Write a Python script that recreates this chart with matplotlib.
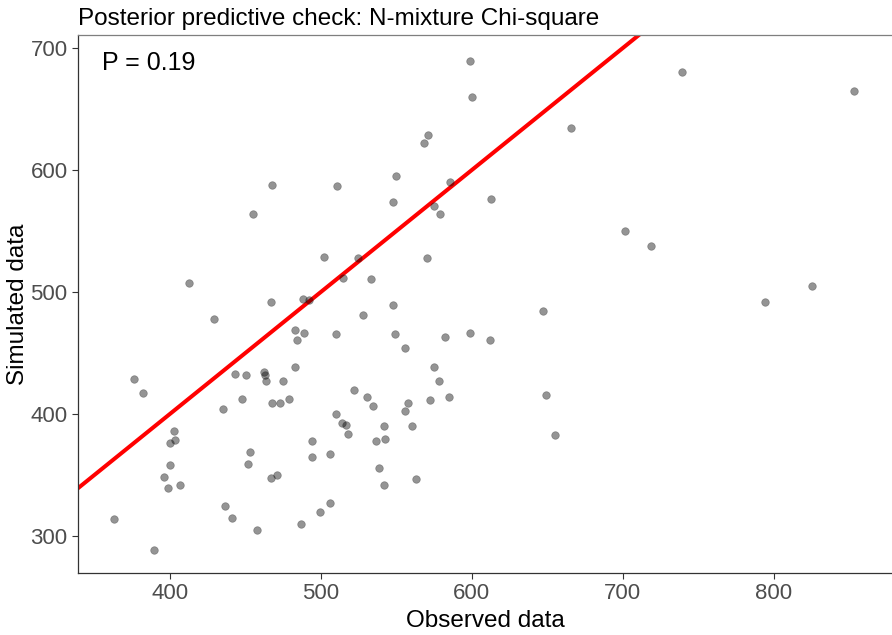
import matplotlib
matplotlib.use("Agg")
import matplotlib.pyplot as plt
import numpy as np

# Observed vs simulated discrepancy values
observed = [
    467.7, 511.0, 455.1, 502.0, 524.4, 514.6, 412.8, 467.0, 487.9, 492.5,
    429.3, 510.4, 482.9, 488.6, 484.4, 376.3, 382.5, 443.4, 450.5, 462.6,
    462.8, 463.7, 475.1, 482.9, 447.7, 467.9, 473.3, 479.1, 435.1, 522.3,
    402.6, 403.2, 399.9, 400.4, 396.4, 399.1, 406.5, 453.1, 452.0, 467.0,
    470.7, 494.4, 494.4, 506.0, 510.4, 513.8, 516.7, 518.1, 436.8, 441.1,
    457.9, 487.2, 499.4, 506.4, 362.8, 389.7, 599.0, 599.9, 570.8, 568.6,
    665.6, 549.9, 547.9, 585.6, 612.9, 574.8, 579.2, 701.3, 570.4, 533.1,
    547.6, 528.2, 647.3, 549.0, 556.0, 582.5, 598.6, 612.0, 575.2, 578.5,
    530.5, 534.5, 557.8, 555.6, 572.6, 584.7, 649.1, 542.1, 542.8, 536.8,
    560.4, 655.2, 538.6, 542.1, 563.3, 739.5, 853.0, 718.7, 793.9, 825.2,
]
simulated = [
    588.1, 587.0, 564.1, 528.9, 528.3, 511.3, 507.2, 492.2, 494.4, 493.6,
    478.3, 465.2, 469.0, 466.8, 461.1, 429.1, 417.4, 432.9, 432.4, 434.3,
    432.0, 427.2, 426.9, 438.4, 412.5, 409.2, 409.2, 412.5, 404.1, 420.1,
    386.5, 379.1, 376.5, 358.6, 348.8, 339.2, 341.6, 368.7, 359.2, 347.7,
    349.8, 377.5, 364.9, 367.0, 399.8, 392.6, 390.8, 384.0, 324.3, 314.9,
    305.1, 310.0, 320.1, 327.2, 313.8, 288.9, 689.5, 660.2, 628.5, 622.5,
    634.6, 595.5, 573.6, 590.3, 576.6, 570.3, 564.3, 550.0, 528.3, 511.1,
    489.3, 481.3, 484.6, 465.7, 454.5, 463.0, 466.8, 460.5, 438.4, 426.9,
    414.1, 406.4, 409.2, 402.1, 411.9, 414.1, 415.2, 389.8, 379.7, 377.5,
    390.3, 383.2, 355.9, 341.6, 346.6, 680.5, 664.9, 537.5, 492.2, 504.8,
]
p_value = 0.19

x_ticks = [400, 500, 600, 700, 800]
y_ticks = [300, 400, 500, 600, 700]

plt.rcParams["font.family"] = ["Liberation Sans", "DejaVu Sans"]

fig = plt.figure(figsize=(8.92, 6.35), dpi=100)
ax = fig.add_axes([78 / 892, 1 - 573 / 635, 814 / 892, 538 / 635])

ax.scatter(observed, simulated, s=30, facecolor="black", edgecolor="#303030",
           linewidth=0.5, alpha=0.42, zorder=3)

# 1:1 reference line
lims = np.array([300, 1000])
ax.plot(lims, lims, color="red", linewidth=2.9, zorder=2)

ax.set_xlim(339.2, 878.3)
ax.set_ylim(269.7, 710.7)
ax.set_xticks(x_ticks)
ax.set_yticks(y_ticks)

ax.tick_params(axis="both", colors="#333333", labelcolor="#4d4d4d",
               labelsize=16, length=4, width=0.8, direction="out")
for side in ["left", "bottom"]:
    ax.spines[side].set_color("#333333")
    ax.spines[side].set_linewidth(0.9)
ax.spines["top"].set_color("#7f7f7f")
ax.spines["top"].set_linewidth(0.9)
ax.spines["right"].set_visible(False)

ax.set_xlabel("Observed data", fontsize=17.5, color="black", labelpad=4)
ax.set_ylabel("Simulated data", fontsize=17.5, color="black", labelpad=1)

ax.text(0.03, 0.935, f"P = {p_value}", transform=ax.transAxes,
        fontsize=18, va="baseline", ha="left", color="black")

fig.text(78 / 892, 1 - 25 / 635, "Posterior predictive check: N-mixture Chi-square",
         fontsize=17.5, ha="left", va="baseline", color="black")

fig.savefig("out.png", dpi=100)
